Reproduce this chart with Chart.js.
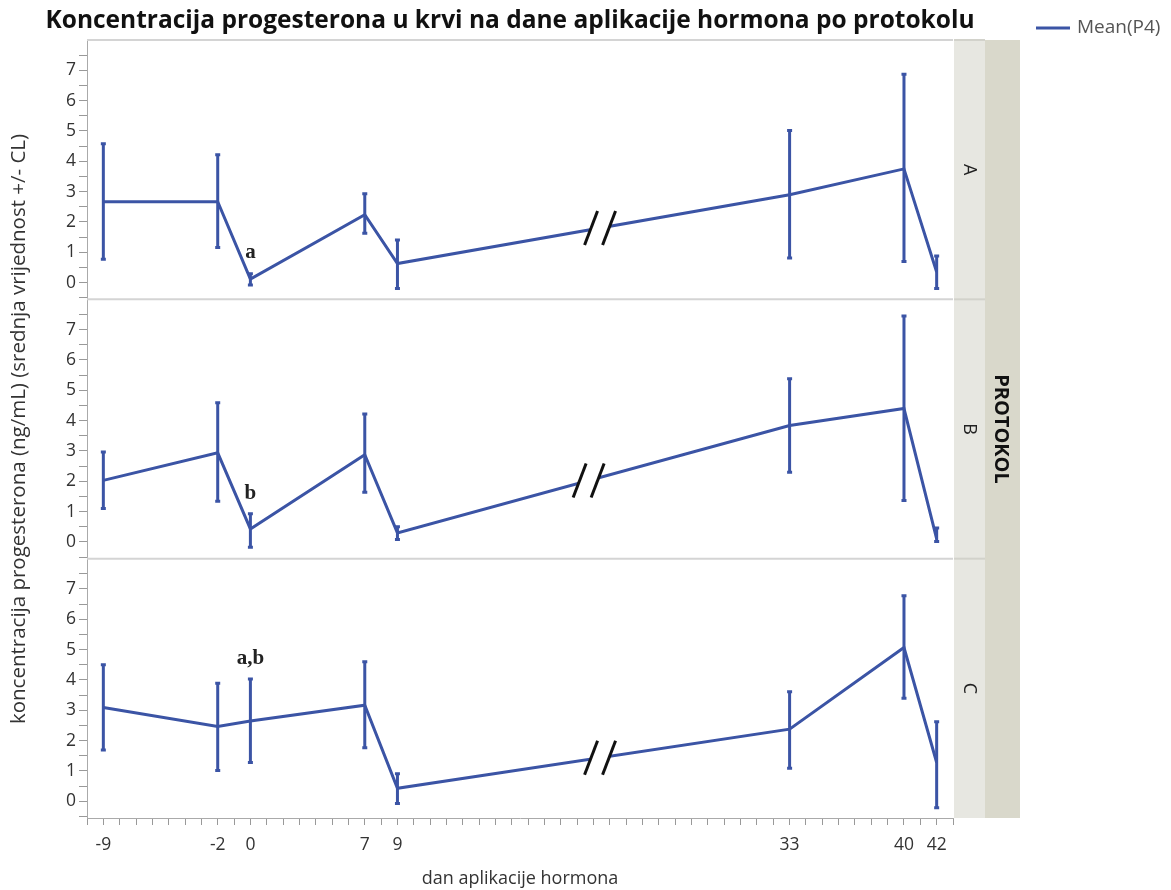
<!DOCTYPE html>
<html>
<head>
<meta charset="utf-8">
<script src="https://cdn.jsdelivr.net/npm/chart.js@4/dist/chart.umd.min.js"></script>
<style>
  html, body { margin: 0; padding: 0; background: #fff; }
  #wrap { width: 1171px; height: 890px; }
</style>
</head>
<body>
<div id="wrap"><canvas id="chart" width="1171" height="890"></canvas></div>
<script>
// dani mjerenja (x os)
const days = [-9, -2, 0, 7, 9, 33, 40, 42];
const panels = ["A", "B", "C"];

// srednje vrijednosti P4 po protokolu
const meanA = [2.67, 2.67, 0.12, 2.24, 0.63, 2.90, 3.75, 0.35];
const meanB = [2.03, 2.94, 0.43, 2.88, 0.30, 3.84, 4.40, 0.10];
const meanC = [3.09, 2.47, 2.65, 3.17, 0.43, 2.38, 5.07, 1.28];

// granice pouzdanosti (CL)
const upperA = [4.58, 4.22, 0.29, 2.93, 1.41, 5.02, 6.87, 0.88];
const lowerA = [0.77, 1.16, -0.08, 1.63, -0.19, 0.81, 0.70, -0.19];
const upperB = [2.97, 4.59, 0.93, 4.22, 0.50, 5.38, 7.45, 0.46];
const lowerB = [1.10, 1.34, -0.17, 1.64, 0.08, 2.30, 1.37, 0.02];
const upperC = [4.50, 3.89, 4.03, 4.60, 0.91, 3.61, 6.78, 2.62];
const lowerC = [1.69, 1.02, 1.28, 1.77, -0.07, 1.09, 3.40, -0.21];

// oznake značajnosti
const noteText = ["a", "b", "a,b"];
const noteDay = [0, 0, 0];
const noteValue = [0.98, 1.6, 4.69];

// prekid osi (//) između 9. i 33. dana
const breakDay = [21.4, 20.7, 21.4];

const yTickValues = [-0.5, 0, 0.5, 1, 1.5, 2, 2.5, 3, 3.5, 4, 4.5, 5, 5.5, 6, 6.5, 7, 7.5];

const means = [meanA, meanB, meanC];
const uppers = [upperA, upperB, upperC];
const lowers = [lowerA, lowerB, lowerC];
const axisIds = ["yA", "yB", "yC"];

const blue = "#3b54a5";
const font = "'Open Sans', 'Noto Sans', sans-serif";

const datasets = panels.map((p, i) => ({
    label: "Mean(P4) " + p,
    data: days.map((d, j) => ({ x: d, y: means[i][j] })),
    yAxisID: axisIds[i],
    borderColor: blue,
    backgroundColor: blue,
    borderWidth: 3,
    pointRadius: 0,
    tension: 0,
    fill: false
}));

function yScale(i) {
    return {
        type: "linear",
        position: "left",
        stack: "panels",
        stackWeight: 1,
        weight: 3 - i,
        min: -0.55,
        max: 8.0,
        afterBuildTicks: (scale) => {
            scale.ticks = yTickValues.map(v => ({ value: v }));
        },
        afterFit: (scale) => { scale.width = 87; },
        ticks: {
            autoSkip: false,
            padding: 3,
            color: "#333",
            font: { family: font, size: 17.5 },
            callback: (v) => Number.isInteger(v) ? String(v) : ""
        },
        grid: { drawOnChartArea: false, drawTicks: true, tickLength: 8, color: "#999" },
        border: { display: true, color: "#aaa", width: 1 },
        title: {
            display: i === 1,
            text: "koncentracija progesterona (ng/mL) (srednja vrijednost +/- CL)",
            color: "#333",
            font: { family: font, size: 20.5 },
            padding: { top: 7, bottom: 0 }
        }
    };
}

const decorations = {
    id: "decorations",
    afterDatasetsDraw(chart) {
        const ctx = chart.ctx;
        const xs = chart.scales.x;
        ctx.save();
        // error bars
        ctx.strokeStyle = blue;
        ctx.lineWidth = 3;
        panels.forEach((p, i) => {
            const ys = chart.scales[axisIds[i]];
            days.forEach((d, j) => {
                const px = xs.getPixelForValue(d);
                const top = ys.getPixelForValue(uppers[i][j]);
                const bot = ys.getPixelForValue(lowers[i][j]);
                ctx.beginPath();
                ctx.moveTo(px, top);
                ctx.lineTo(px, bot);
                ctx.moveTo(px - 2.5, top);
                ctx.lineTo(px + 2.5, top);
                ctx.moveTo(px - 2.5, bot);
                ctx.lineTo(px + 2.5, bot);
                ctx.stroke();
            });
        });
        // break marks
        panels.forEach((p, i) => {
            const ys = chart.scales[axisIds[i]];
            const d0 = days[4], d1 = days[5];
            const t = (breakDay[i] - d0) / (d1 - d0);
            const v = means[i][4] + t * (means[i][5] - means[i][4]);
            const cx = xs.getPixelForValue(breakDay[i]);
            const cy = ys.getPixelForValue(v);
            const h = 17, w = 6.5, g = 9;
            ctx.fillStyle = "#fff";
            ctx.beginPath();
            ctx.moveTo(cx - g - w, cy + h);
            ctx.lineTo(cx - g + w, cy - h);
            ctx.lineTo(cx + g + w, cy - h);
            ctx.lineTo(cx + g - w, cy + h);
            ctx.closePath();
            ctx.fill();
            ctx.strokeStyle = "#111";
            ctx.lineWidth = 3;
            [-g, g].forEach(off => {
                ctx.beginPath();
                ctx.moveTo(cx + off - w, cy + h);
                ctx.lineTo(cx + off + w, cy - h);
                ctx.stroke();
            });
        });
        // significance letters
        ctx.fillStyle = "#222";
        ctx.font = "bold 21px 'Liberation Serif', serif";
        ctx.textAlign = "center";
        ctx.textBaseline = "middle";
        panels.forEach((p, i) => {
            const ys = chart.scales[axisIds[i]];
            ctx.fillText(noteText[i], xs.getPixelForValue(noteDay[i]), ys.getPixelForValue(noteValue[i]));
        });
        ctx.restore();
    },
    afterDraw(chart) {
        const ctx = chart.ctx;
        const area = chart.chartArea;
        ctx.save();
        // panel separators
        ctx.strokeStyle = "#d4d4d4";
        ctx.lineWidth = 2;
        panels.forEach((p, i) => {
            const ys = chart.scales[axisIds[i]];
            ctx.beginPath();
            ctx.moveTo(area.left, ys.top);
            ctx.lineTo(area.right, ys.top);
            ctx.stroke();
        });
        // right strip
        const s1 = area.right + 1, s2 = area.right + 32, s3 = area.right + 67;
        ctx.fillStyle = "#d9d8cb";
        ctx.fillRect(s2, area.top, s3 - s2, area.bottom - area.top);
        panels.forEach((p, i) => {
            const ys = chart.scales[axisIds[i]];
            ctx.fillStyle = "#e7e7e1";
            ctx.fillRect(s1, ys.top, s2 - s1, ys.bottom - ys.top);
            ctx.strokeStyle = "#d2d2cb";
            ctx.lineWidth = 2;
            ctx.beginPath();
            ctx.moveTo(s1, ys.top);
            ctx.lineTo(s2, ys.top);
            ctx.stroke();
            ctx.save();
            ctx.translate((s1 + s2) / 2, (ys.top + ys.bottom) / 2);
            ctx.rotate(Math.PI / 2);
            ctx.fillStyle = "#222";
            ctx.font = "18px " + font;
            ctx.textAlign = "center";
            ctx.textBaseline = "middle";
            ctx.fillText(p, 0, 0);
            ctx.restore();
        });
        ctx.save();
        ctx.translate((s2 + s3) / 2 - 2, (area.top + area.bottom) / 2);
        ctx.rotate(Math.PI / 2);
        ctx.fillStyle = "#111";
        ctx.font = "bold 20px " + font;
        ctx.textAlign = "center";
        ctx.textBaseline = "middle";
        ctx.fillText("PROTOKOL", 0, 0);
        ctx.restore();
        // title
        ctx.fillStyle = "#111";
        ctx.font = "bold 24.5px " + font;
        ctx.textAlign = "center";
        ctx.textBaseline = "middle";
        ctx.fillText("Koncentracija progesterona u krvi na dane aplikacije hormona po protokolu", 510, 21);
        // legend
        ctx.strokeStyle = blue;
        ctx.lineWidth = 3;
        ctx.beginPath();
        ctx.moveTo(1036, 28);
        ctx.lineTo(1070, 28);
        ctx.stroke();
        ctx.fillStyle = "#555";
        ctx.font = "19px " + font;
        ctx.textAlign = "left";
        ctx.fillText("Mean(P4)", 1077, 28);
        ctx.restore();
    }
};

new Chart(document.getElementById("chart"), {
    type: "line",
    data: { datasets },
    options: {
        responsive: false,
        animation: false,
        devicePixelRatio: 1,
        layout: { padding: { top: 40, right: 218, left: 0, bottom: 0 } },
        plugins: {
            legend: { display: false },
            title: { display: false },
            tooltip: { enabled: false }
        },
        scales: {
            x: {
                type: "linear",
                position: "bottom",
                min: -10,
                max: 43,
                afterBuildTicks: (scale) => {
                    const t = [];
                    for (let v = -10; v <= 43; v++) t.push({ value: v });
                    scale.ticks = t;
                },
                afterFit: (scale) => { scale.height = 72; },
                ticks: {
                    autoSkip: false,
                    maxRotation: 0,
                    padding: 10,
                    color: "#333",
                    font: { family: font, size: 17.5 },
                    callback: (v) => days.includes(v) ? String(v) : ""
                },
                grid: { drawOnChartArea: false, drawTicks: true, tickLength: 7, color: "#999" },
                border: { display: true, color: "#aaa", width: 1 },
                title: {
                    display: true,
                    text: "dan aplikacije hormona",
                    color: "#333",
                    font: { family: font, size: 18 },
                    padding: { top: 0, bottom: 0 }
                }
            },
            yA: yScale(0),
            yB: yScale(1),
            yC: yScale(2)
        }
    },
    plugins: [decorations]
});
</script>
</body>
</html>
